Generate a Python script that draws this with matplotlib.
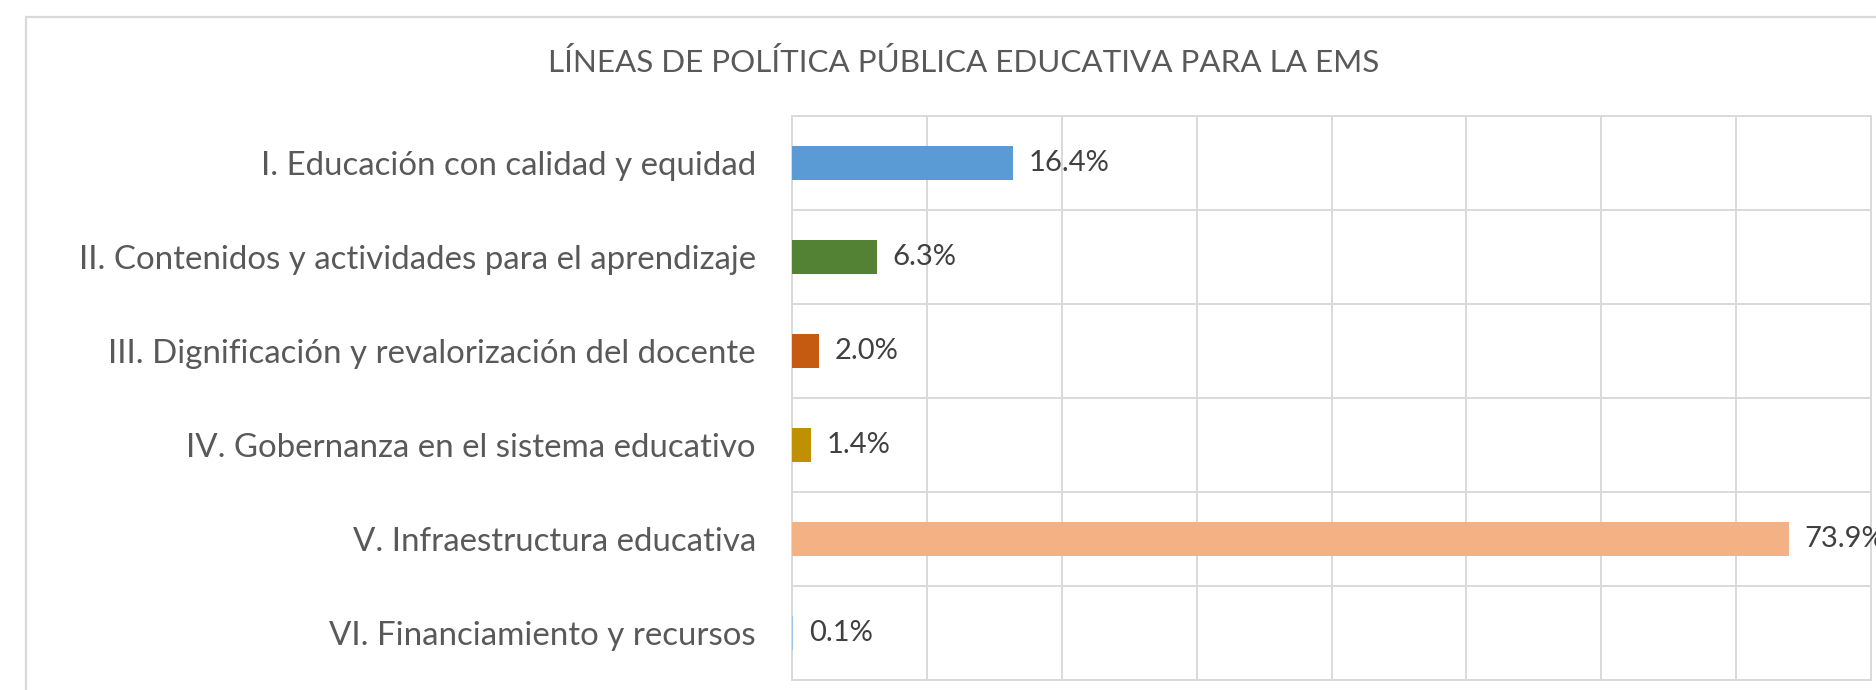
import matplotlib
matplotlib.use("Agg")
import matplotlib.pyplot as plt
from matplotlib.patches import Rectangle
from matplotlib.ticker import MultipleLocator

# chart data
categories = [
    "I. Educación con calidad y equidad",
    "II. Contenidos y actividades para el aprendizaje",
    "III. Dignificación y revalorización del docente",
    "IV. Gobernanza en el sistema educativo",
    "V. Infraestructura educativa",
    "VI. Financiamiento y recursos",
]
values = [0.164, 0.063, 0.020, 0.014, 0.739, 0.001]
value_labels = ["16.4%", "6.3%", "2.0%", "1.4%", "73.9%", "0.1%"]
bar_colors = ["#5B9BD5", "#548235", "#C55A11", "#BF9000", "#F4B183", "#9DC3E6"]
title = "LÍNEAS DE POLÍTICA PÚBLICA EDUCATIVA PARA LA EMS"

plt.rcParams['font.family'] = ['Lato', 'DejaVu Sans']

W, H = 1876, 690
fig = plt.figure(figsize=(W / 100, H / 100), dpi=100)

# outer chart frame (cut off at right/bottom like the screenshot)
frame = Rectangle((26 / W, -0.1), 1.2, 1 - 17 / H + 0.1, transform=fig.transFigure,
                  fill=False, edgecolor="#D9D9D9", linewidth=1.6, clip_on=False)
fig.patches.append(frame)

ax = fig.add_axes([792 / W, 10 / H, 1079 / W, 564 / H])

y = list(range(len(categories)))
ax.barh(y, values, height=0.36, color=bar_colors, zorder=3)

ax.set_xlim(0, 0.8)
ax.set_ylim(len(categories) - 0.5, -0.5)

# grid lines on both axes (category boundaries horizontally)
ax.xaxis.set_major_locator(MultipleLocator(0.1))
ax.set_yticks([i + 0.5 for i in range(-1, len(categories))], minor=True)
ax.set_yticks(y)
ax.set_yticklabels(categories, fontsize=23.8, color="#595959")
ax.tick_params(axis="y", which="both", length=0, pad=26)
ax.tick_params(axis="x", which="both", length=0, labelbottom=False)
ax.grid(axis="x", which="major", color="#D9D9D9", linewidth=1.4, zorder=0)
ax.grid(axis="y", which="minor", color="#D9D9D9", linewidth=1.4, zorder=0)
for s in ax.spines.values():
    s.set_color("#D9D9D9")
    s.set_linewidth(1.4)

for yi, v, lab in zip(y, values, value_labels):
    ax.annotate(lab, (v, yi), xytext=(11, 0), textcoords="offset points",
                va="center", ha="left", fontsize=21, color="#404040",
                annotation_clip=False)

fig.text(964 / W, 1 - 62 / H, title, ha="center", va="center",
         fontsize=22.6, color="#595959")

fig.savefig("out.png", dpi=100)
